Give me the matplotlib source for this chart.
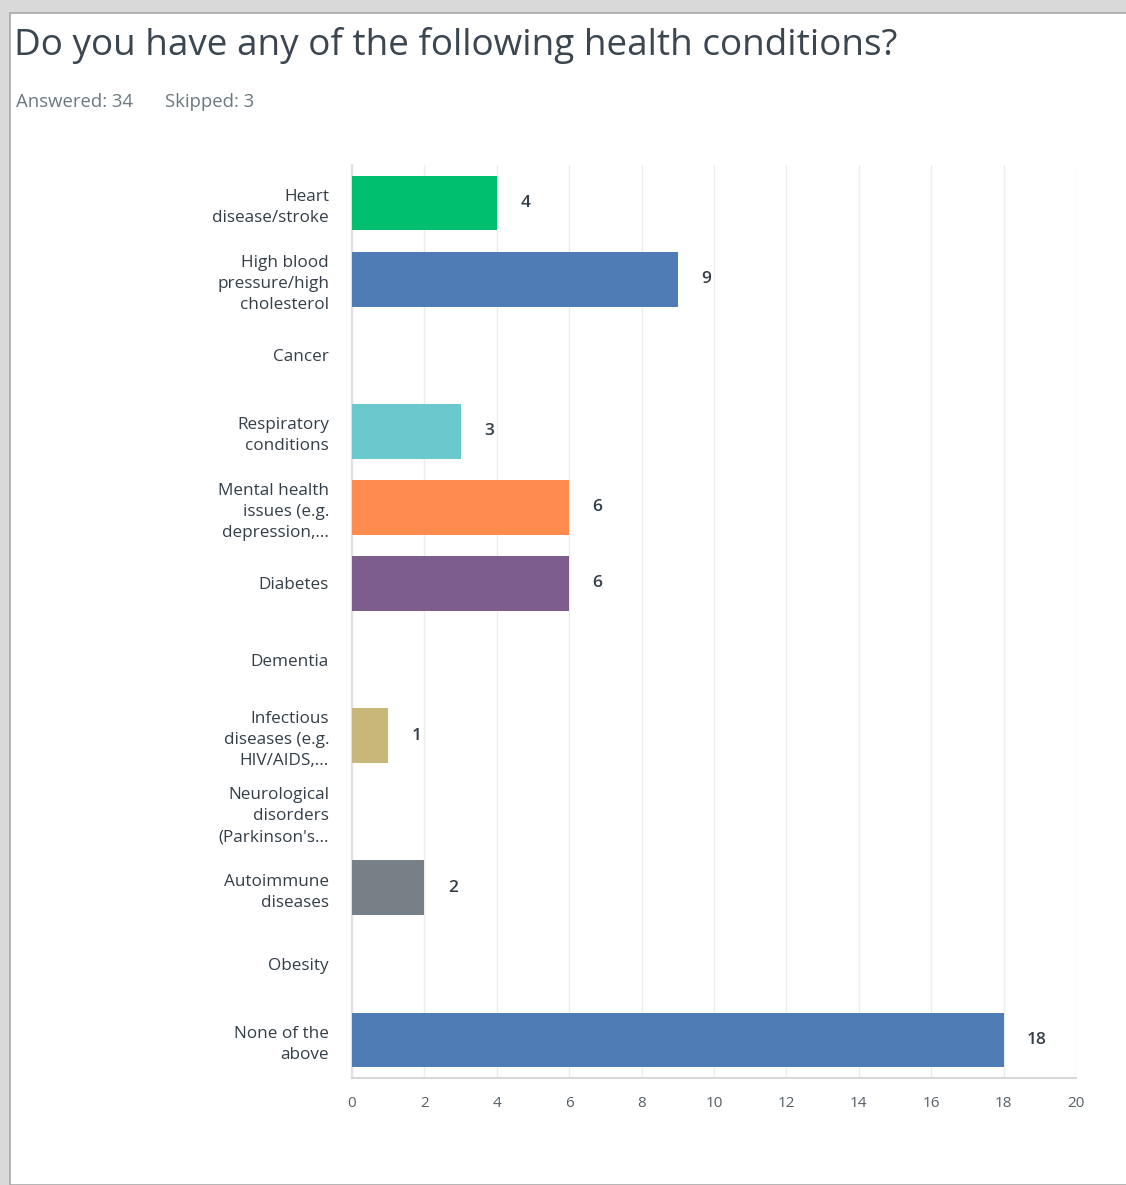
import matplotlib.pyplot as plt
from matplotlib.patches import Rectangle

# dados
categories = ["Heart\ndisease/stroke",
              "High blood\npressure/high\ncholesterol",
              "Cancer",
              "Respiratory\nconditions",
              "Mental health\nissues (e.g.\ndepression,...",
              "Diabetes",
              "Dementia",
              "Infectious\ndiseases (e.g.\nHIV/AIDS,...",
              "Neurological\ndisorders\n(Parkinson's...",
              "Autoimmune\ndiseases",
              "Obesity",
              "None of the\nabove"]
values = [4, 9, 0, 3, 6, 6, 0, 1, 0, 2, 0, 18]
colors = ["#00BF6F", "#507CB6", "#F9BE00", "#6BC8CD", "#FF8B4F", "#7D5C8E",
          "#D25F90", "#C7B879", "#768086", "#768086", "#00BF6F", "#507CB6"]
xticks = [0, 2, 4, 6, 8, 10, 12, 14, 16, 18, 20]

title = "Do you have any of the following health conditions?"
answered = "Answered: 34"
skipped = "Skipped: 3"

plt.rcParams['font.family'] = ['Open Sans', 'DejaVu Sans']

fig = plt.figure(figsize=(11.26, 11.85), dpi=100, facecolor="#d9d9d9")
# painel branco com borda (sombra)
fig.patches.append(Rectangle((10/1126, 0), 1, 1 - 13/1185, transform=fig.transFigure,
                             facecolor="white", edgecolor="#a8a8a8", linewidth=1.2, zorder=-5))

fig.text(14/1126, 1 - 45/1185, title, fontsize=26.6, color="#3b4650", va="center", ha="left")
fig.text(16/1126, 1 - 102/1185, answered, fontsize=13.3, color="#6b7880", va="center", ha="left")
fig.text(165/1126, 1 - 102/1185, skipped, fontsize=13.3, color="#6b7880", va="center", ha="left")

ax = fig.add_axes([352/1126, 1 - 1078/1185, (1076 - 352)/1126, (1078 - 165)/1185])
ax.set_zorder(2)
ax.set_facecolor("white")
ys = list(range(len(categories)))
ax.barh(ys, values, height=0.72, color=colors, edgecolor="none", zorder=3)
for y, v in zip(ys, values):
    if v > 0:
        ax.text(v + 0.65, y, str(v), va="center", ha="left", fontsize=12.5,
                color="#333e48", fontweight="semibold")

ax.set_xlim(0, 20)
ax.set_ylim(len(categories) - 0.5, -0.5)
ax.set_xticks(xticks)
ax.set_xticklabels([str(t) for t in xticks], fontsize=11, color="#555f66")
ax.set_yticks(ys)
ax.set_yticklabels(categories, fontsize=12.3, color="#333e48", linespacing=1.42)
ax.tick_params(axis="both", length=0)
ax.tick_params(axis="x", pad=13)
ax.tick_params(axis="y", pad=16.5)
ax.grid(axis="x", color="#ececec", linewidth=1, zorder=0)
for s in ["top", "right"]:
    ax.spines[s].set_visible(False)
ax.spines["left"].set_color("#e0e0e0")
ax.spines["bottom"].set_color("#d8d8d8")
ax.spines["left"].set_linewidth(1.5)
ax.spines["bottom"].set_linewidth(1.5)

fig.savefig("out.png", dpi=100, facecolor=fig.get_facecolor())
